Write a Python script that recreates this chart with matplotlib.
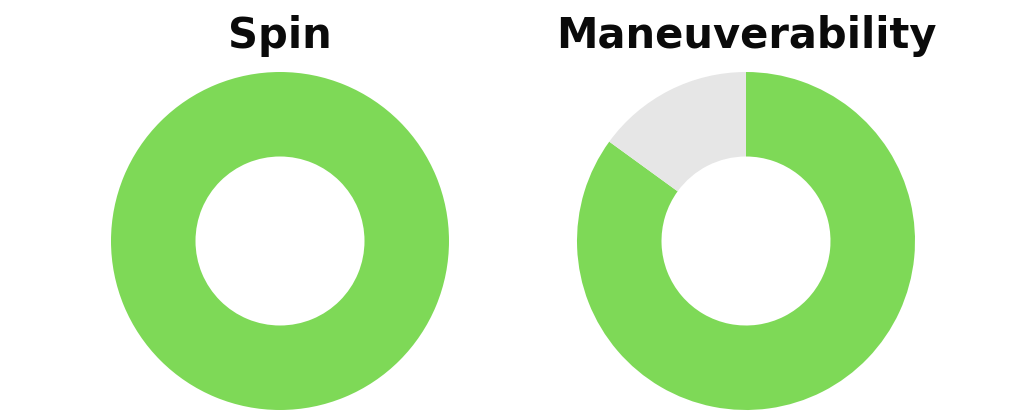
import matplotlib
matplotlib.use("Agg")
import matplotlib.pyplot as plt

# data
titles = ["Spin", "Maneuverability"]
filled = [100, 85]          # percent score
colors = ["#7ED957", "#E6E6E6"]

W, H = 1024, 416
fig = plt.figure(figsize=(W / 100, H / 100), dpi=100)
fig.patch.set_facecolor("white")

centers_x = [280, 746]
cy, r_out = 241, 169

for title, val, cx in zip(titles, filled, centers_x):
    ax = fig.add_axes([(cx - r_out) / W, (H - cy - r_out) / H, 2 * r_out / W, 2 * r_out / H])
    rest = 100 - val
    vals = [val, rest] if rest > 0 else [val]
    ax.pie(vals, colors=colors[:len(vals)], startangle=90, counterclock=False,
           radius=1, wedgeprops=dict(width=0.5, linewidth=0))
    ax.set_xlim(-1, 1)
    ax.set_ylim(-1, 1)
    ax.set_aspect("equal")
    ax.axis("off")
    fig.text(cx / W, 1 - 48 / H, title, ha="center", va="baseline",
             fontsize=30, fontweight="bold", family="DejaVu Sans", color="#0a0a0a")

fig.savefig("out.png", dpi=100, facecolor="white")
